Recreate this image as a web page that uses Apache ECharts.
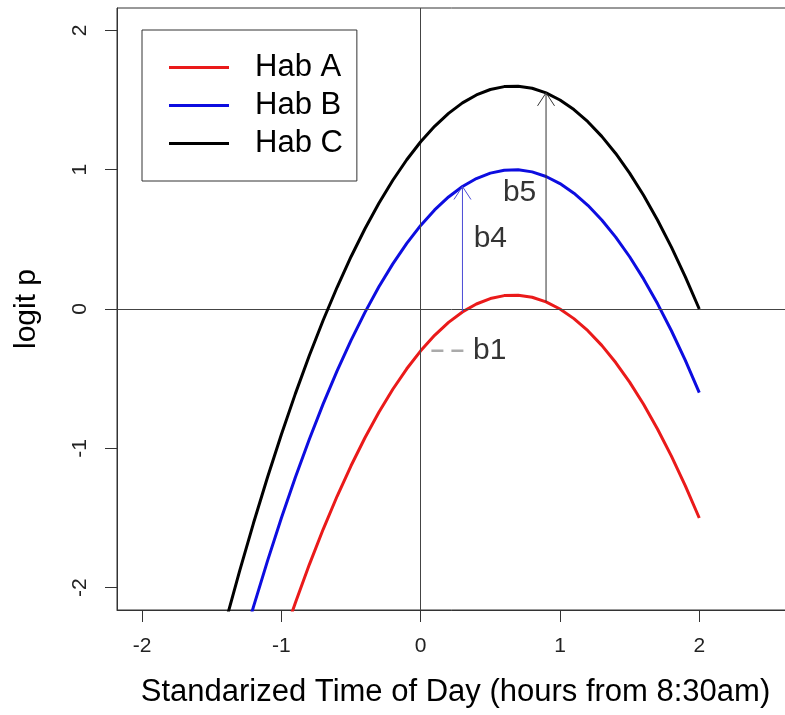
<!DOCTYPE html>
<html><head><meta charset="utf-8">
<script src="https://cdn.jsdelivr.net/npm/echarts@6/dist/echarts.min.js"></script>
<style>html,body{margin:0;padding:0;background:#fff}#c{width:785px;height:715px}</style>
</head><body><div id="c"></div>
<script>
// ---- data ----
const timeX = [-1.5,-1.4,-1.3,-1.2,-1.1,-1.0,-0.9,-0.8,-0.7,-0.6,-0.5,-0.4,-0.3,-0.2,-0.1,0.0,0.1,0.2,0.3,0.4,0.5,0.6,0.7,0.8,0.9,1.0,1.1,1.2,1.3,1.4,1.5,1.6,1.7,1.8,1.9,2.0];
const habA = [-4.125,-3.744,-3.381,-3.036,-2.709,-2.400,-2.109,-1.836,-1.581,-1.344,-1.125,-0.924,-0.741,-0.576,-0.429,-0.300,-0.189,-0.096,-0.021,0.036,0.075,0.096,0.099,0.084,0.051,0.000,-0.069,-0.156,-0.261,-0.384,-0.525,-0.684,-0.861,-1.056,-1.269,-1.500];
const habB = [-3.225,-2.844,-2.481,-2.136,-1.809,-1.500,-1.209,-0.936,-0.681,-0.444,-0.225,-0.024,0.159,0.324,0.471,0.600,0.711,0.804,0.879,0.936,0.975,0.996,0.999,0.984,0.951,0.900,0.831,0.744,0.639,0.516,0.375,0.216,0.039,-0.156,-0.369,-0.600];
const habC = [-2.625,-2.244,-1.881,-1.536,-1.209,-0.900,-0.609,-0.336,-0.081,0.156,0.375,0.576,0.759,0.924,1.071,1.200,1.311,1.404,1.479,1.536,1.575,1.596,1.599,1.584,1.551,1.500,1.431,1.344,1.239,1.116,0.975,0.816,0.639,0.444,0.231,0.000];
const seriesNames = ['Hab A', 'Hab B', 'Hab C'];
const xTicks = [-2, -1, 0, 1, 2];
const yTicks = [-2, -1, 0, 1, 2];
// arrows (b4, b5): x position, start value, end value
const arrowX = [0.3, 0.9];
const arrowFrom = [-0.021, 0.051];
const arrowTo = [0.879, 1.551];
// b1 dashed marker
const b1X = [0.077, 0.307];
const b1Y = [-0.30, -0.30];
// annotation labels
const annoText = ['b1', 'b4', 'b5'];
const annoX = [0.495, 0.50, 0.71];
const annoY = [-0.30, 0.505, 0.835];

// ---- styles ----
const FONT = "'Liberation Sans', Arial, Helvetica, sans-serif";
const lineColors = ['#ea1a1a', '#0d0de0', '#000000'];
const arrowColors = ['#4b4bd6', '#333333'];

const chart = echarts.init(document.getElementById('c'), null, {renderer: 'canvas'});
const curves = [habA, habB, habC].map((vals, k) => ({
  name: seriesNames[k],
  type: 'line',
  data: timeX.map((x, i) => [x, vals[i]]),
  showSymbol: false,
  clip: true,
  silent: true,
  z: 3 + k,
  lineStyle: {color: lineColors[k], width: 3},
  itemStyle: {color: lineColors[k]}
}));

const option = {
  animation: false,
  textStyle: {fontFamily: FONT},
  grid: {left: 117, top: 8, width: 677, height: 602, containLabel: false, outerBoundsMode: 'none',
         show: true, borderColor: '#333', borderWidth: 1, backgroundColor: 'transparent'},
  legend: {
    data: seriesNames,
    left: 142, top: 30,
    orient: 'vertical',
    icon: 'rect',
    itemWidth: 60, itemHeight: 3,
    itemGap: 7,
    selectedMode: false,
    borderColor: '#333', borderWidth: 1, borderRadius: 0,
    padding: [22, 14, 22, 27],
    textStyle: {fontSize: 31, lineHeight: 30, color: '#000', fontFamily: FONT, padding: [0, 0, 0, 21]}
  },
  xAxis: {
    type: 'value', min: -2.18, max: 2.68,
    name: 'Standarized Time of Day (hours from 8:30am)',
    nameLocation: 'middle', nameGap: 67,
    nameTextStyle: {fontSize: 31, color: '#000', fontFamily: FONT},
    axisLine: {show: true, onZero: false, lineStyle: {color: '#333', width: 1}},
    axisTick: {show: true, length: 12, customValues: xTicks, lineStyle: {color: '#333', width: 1}},
    axisLabel: {customValues: xTicks, fontSize: 21, color: '#222', margin: 26, fontFamily: FONT},
    splitLine: {show: false}
  },
  yAxis: {
    type: 'value', min: -2.16, max: 2.16,
    name: 'logit p',
    nameLocation: 'middle', nameGap: 75,
    nameTextStyle: {fontSize: 30, color: '#000', fontFamily: FONT},
    axisLine: {show: true, onZero: false, lineStyle: {color: '#333', width: 1}},
    axisTick: {show: true, length: 12, customValues: yTicks, lineStyle: {color: '#333', width: 1}},
    axisLabel: {customValues: yTicks, fontSize: 21, color: '#222', margin: 26, rotate: 90, fontFamily: FONT},
    splitLine: {show: false}
  },
  series: [
    {
      name: 'refs', type: 'scatter', symbolSize: 0, silent: true, z: 2,
      data: annoText.map((t, i) => ({value: [annoX[i], annoY[i]], name: t})),
      label: {show: true, position: 'inside', formatter: p => p.name, fontSize: 30, color: '#000', fontFamily: FONT},
      markLine: {
        silent: true, symbol: 'none', animation: false,
        label: {show: false},
        lineStyle: {color: '#444', width: 1, type: 'solid'},
        data: [{yAxis: 0}, {xAxis: 0}]
      }
    },
    {
      name: 'b1seg', type: 'line', silent: true, showSymbol: false, z: 2,
      data: b1X.map((x, i) => [x, b1Y[i]]),
      lineStyle: {color: '#aaaaaa', width: 2.5, type: [12, 8]}
    },
    ...curves,
    {
      name: 'arrows', type: 'custom', coordinateSystem: 'cartesian2d', silent: true, z: 10,
      data: arrowX.map((x, i) => [x, arrowFrom[i], arrowTo[i]]),
      encode: {x: 0, y: [1, 2]},
      renderItem(params, api) {
        const i = params.dataIndex;
        const x = api.value(0);
        const p0 = api.coord([x, api.value(1)]);
        const p1 = api.coord([x, api.value(2)]);
        const col = arrowColors[i];
        const dx = p1[0] - p0[0], dy = p1[1] - p0[1];
        const L = Math.hypot(dx, dy) || 1;
        const ux = dx / L, uy = dy / L;
        const len = 13, hw = 8.5;
        const bx = p1[0] - ux * len, by = p1[1] - uy * len;
        const w1 = [bx - uy * hw, by + ux * hw];
        const w2 = [bx + uy * hw, by - ux * hw];
        return {
          type: 'group',
          children: [
            {type: 'line', shape: {x1: p0[0], y1: p0[1], x2: p1[0], y2: p1[1]}, style: {stroke: col, lineWidth: 1}},
            {type: 'polyline', shape: {points: [w1, p1, w2]}, style: {stroke: col, lineWidth: 1, fill: null}}
          ]
        };
      }
    }
  ]
};
chart.setOption(option);
</script>
</body></html>
